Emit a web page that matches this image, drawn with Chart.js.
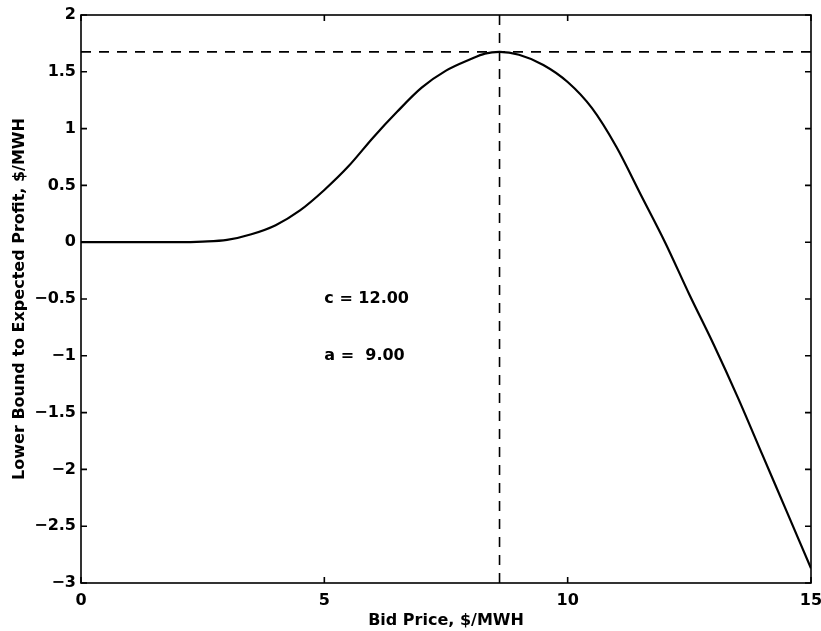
<!DOCTYPE html>
<html>
<head>
<meta charset="utf-8">
<script src="https://cdn.jsdelivr.net/npm/chart.js@4"></script>
<style>
  html, body { margin: 0; padding: 0; background: #fff; }
  #wrap { width: 821px; height: 631px; }
</style>
</head>
<body>
<div id="wrap"><canvas id="c" width="821" height="631"></canvas></div>
<script>
// Lower bound to expected profit as a function of the bid price
const bidPrice = [0, 0.5, 1, 1.5, 2, 2.5, 3, 3.5, 4, 4.5, 5, 5.5, 6, 6.5, 7, 7.5, 8, 8.3, 8.6,
                  9, 9.5, 10, 10.5, 11, 11.5, 12, 12.5, 13, 13.5, 14, 14.5, 15];
const lowerBound = [0, 0, 0, 0, 0, 0.005, 0.02, 0.07, 0.15, 0.28, 0.46, 0.67, 0.92, 1.15, 1.36, 1.51, 1.61, 1.66, 1.675,
                    1.65, 1.56, 1.41, 1.18, 0.84, 0.42, 0.0, -0.46, -0.90, -1.37, -1.87, -2.37, -2.87];

// optimum bid and its profit bound (dashed guide lines)
const optimumBid = [8.6];
const optimumProfit = [1.675];

// parameter annotations: [x, y, text]
const notes = [
  [5.0, -0.5, 'c = 12.00'],
  [5.0, -1.0, 'a =  9.00']
];

const xTickLabels = ['0', '5', '10', '15'];
const yTickLabels = ['\u22123', '\u22122.5', '\u22122', '\u22121.5', '\u22121', '\u22120.5', '0', '0.5', '1', '1.5', '2'];

const FONT = '"DejaVu Sans", "Liberation Sans", Arial, sans-serif';

const curve = bidPrice.map((x, i) => ({ x: x, y: lowerBound[i] }));
const hLine = [{ x: 0, y: optimumProfit[0] }, { x: 15, y: optimumProfit[0] }];
const vLine = [{ x: optimumBid[0], y: -3 }, { x: optimumBid[0], y: 2 }];

// MATLAB-style frame: full box with inward ticks on all four sides, plus text notes
const framePlugin = {
  id: 'frame',
  afterDraw(chart) {
    const { ctx, chartArea: a, scales } = chart;
    const xs = scales.x, ys = scales.y;
    ctx.save();
    ctx.strokeStyle = '#000';
    ctx.lineWidth = 1.6;
    ctx.strokeRect(a.left, a.top, a.right - a.left, a.bottom - a.top);
    const tl = 6;
    ctx.beginPath();
    xs.ticks.forEach(t => {
      const px = xs.getPixelForValue(t.value);
      ctx.moveTo(px, a.bottom); ctx.lineTo(px, a.bottom - tl);
      ctx.moveTo(px, a.top); ctx.lineTo(px, a.top + tl);
    });
    ys.ticks.forEach(t => {
      const py = ys.getPixelForValue(t.value);
      ctx.moveTo(a.left, py); ctx.lineTo(a.left + tl, py);
      ctx.moveTo(a.right, py); ctx.lineTo(a.right - tl, py);
    });
    ctx.stroke();

    ctx.fillStyle = '#000';
    ctx.font = 'bold 16px ' + FONT;
    ctx.textAlign = 'left';
    ctx.textBaseline = 'middle';
    notes.forEach(n => {
      ctx.fillText(n[2], xs.getPixelForValue(n[0]), ys.getPixelForValue(n[1]));
    });
    ctx.restore();
  }
};

new Chart(document.getElementById('c'), {
  type: 'line',
  data: {
    datasets: [
      {
        data: curve,
        borderColor: '#000',
        borderWidth: 2.2,
        pointRadius: 0,
        cubicInterpolationMode: 'monotone',
        fill: false
      },
      {
        data: hLine,
        borderColor: '#000',
        borderWidth: 1.6,
        borderDash: [10, 8],
        pointRadius: 0,
        fill: false
      },
      {
        data: vLine,
        borderColor: '#000',
        borderWidth: 1.6,
        borderDash: [10, 8],
        pointRadius: 0,
        fill: false
      }
    ]
  },
  options: {
    responsive: false,
    animation: false,
    layout: { padding: { left: 0, top: 15, right: 10, bottom: 0 } },
    plugins: {
      legend: { display: false },
      tooltip: { enabled: false }
    },
    scales: {
      x: {
        type: 'linear',
        min: 0,
        max: 15,
        ticks: {
          stepSize: 5,
          padding: 8,
          color: '#000',
          font: { family: FONT, size: 16, weight: 'bold' },
          callback: (v, i) => xTickLabels[i]
        },
        grid: { display: false, drawTicks: false },
        border: { display: false },
        title: {
          display: true,
          text: 'Bid Price, $/MWH',
          color: '#000',
          font: { family: FONT, size: 16, weight: 'bold' },
          padding: { top: 0, bottom: 1 }
        },
        afterFit(scale) {
          scale.height = 48;
          scale.paddingLeft = 0;
          scale.paddingRight = 0;
        }
      },
      y: {
        type: 'linear',
        min: -3,
        max: 2,
        ticks: {
          stepSize: 0.5,
          padding: 5,
          color: '#000',
          font: { family: FONT, size: 16, weight: 'bold' },
          callback: (v, i) => yTickLabels[i]
        },
        grid: { display: false, drawTicks: false },
        border: { display: false },
        title: {
          display: true,
          text: 'Lower Bound to Expected Profit, $/MWH',
          color: '#000',
          font: { family: FONT, size: 16, weight: 'bold' },
          padding: { top: 10, bottom: 0 }
        },
        afterFit(scale) {
          scale.width = 81;
          scale.paddingTop = 0;
          scale.paddingBottom = 0;
        }
      }
    }
  },
  plugins: [framePlugin]
});
</script>
</body>
</html>
